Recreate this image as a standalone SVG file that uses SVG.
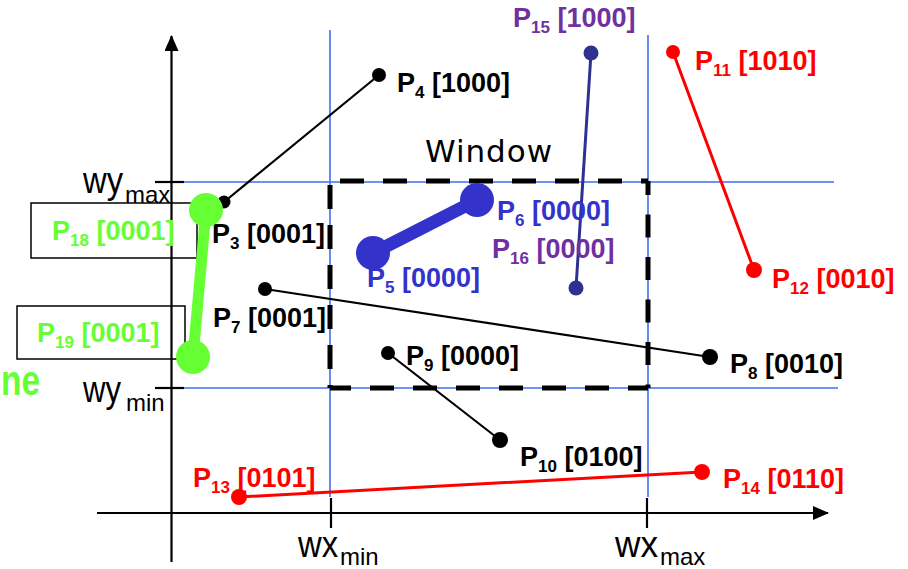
<svg xmlns="http://www.w3.org/2000/svg" width="908" height="569" viewBox="0 0 908 569">
<style>
.lbl{font-family:"Liberation Sans",Arial,sans-serif;font-weight:bold;font-size:27px}
.ax{font-family:"Liberation Sans",Arial,sans-serif;font-size:36px;fill:#000}
.axs{font-family:"Liberation Sans",Arial,sans-serif;font-size:24px;fill:#000}
.grid{stroke:#3f6ff0;stroke-width:1.6;fill:none}
.axis{stroke:#000;stroke-width:2.2;fill:none}
.win{stroke:#000;stroke-width:5;fill:none}
.blk{fill:#000}.red{fill:#ff0000}.pur{fill:#7030a0}.blu{fill:#3333cc}.grn{fill:#66ff33}.nav{fill:#2e3192}
</style>
<defs>
<marker id="ah" viewBox="0 0 16 14" refX="15" refY="7" markerWidth="16" markerHeight="14" markerUnits="userSpaceOnUse" orient="auto">
<path d="M0,0 L16,7 L0,14 Z" fill="#000"/>
</marker>
</defs>
<rect width="908" height="569" fill="#fff"/>
<g id="grid">
<line class="grid" x1="330" y1="30" x2="330" y2="497"/>
<line class="grid" x1="648" y1="35" x2="648" y2="497"/>
<line class="grid" x1="180" y1="182" x2="834" y2="182"/>
<line class="grid" x1="180" y1="388" x2="838" y2="388"/>
</g>
<g id="axes">
<line class="axis" x1="171.5" y1="562" x2="171.5" y2="36" marker-end="url(#ah)"/>
<line class="axis" x1="97" y1="513" x2="828" y2="513" marker-end="url(#ah)"/>
<line class="axis" x1="155" y1="182" x2="184" y2="182"/>
<line class="axis" x1="155" y1="388" x2="184" y2="388"/>
<line class="axis" x1="331" y1="498" x2="331" y2="528"/>
<line class="axis" x1="647" y1="498" x2="647" y2="528"/>
<text class="ax" x="83" y="193" textLength="40" lengthAdjust="spacingAndGlyphs">wy</text>
<text class="axs" x="125" y="203">max</text>
<text class="ax" x="83" y="402" textLength="38" lengthAdjust="spacingAndGlyphs">wy</text>
<text class="axs" x="126" y="411">min</text>
<text class="ax" x="298" y="557" textLength="40" lengthAdjust="spacingAndGlyphs">wx</text>
<text class="axs" x="340" y="565">min</text>
<text class="ax" x="615" y="557" textLength="43" lengthAdjust="spacingAndGlyphs">wx</text>
<text class="axs" x="660" y="565">max</text>
</g>
<g id="window">
<path class="win" d="M330,181 H648" stroke-dasharray="24 19" stroke-dashoffset="33"/>
<path class="win" d="M648,181 V388" stroke-dasharray="23 19.5" stroke-dashoffset="9"/>
<path class="win" d="M648,388 H330" stroke-dasharray="24 19" stroke-dashoffset="4"/>
<path class="win" d="M330,181 V388" stroke-dasharray="24 16" stroke-dashoffset="36"/>
<text x="425" y="162" font-family="DejaVu Sans, sans-serif" font-size="31" textLength="127" fill="#000">Window</text>
</g>
<g id="boxes">
<rect x="31" y="203" width="166" height="55" fill="none" stroke="#000" stroke-width="1.5"/>
<rect x="17" y="306" width="168" height="53" fill="none" stroke="#000" stroke-width="1.5"/>
</g>
<g id="connectors" fill="none" stroke-linecap="round">
<line x1="224" y1="202" x2="379" y2="75" stroke="#000" stroke-width="2.2"/>
<line x1="265" y1="289" x2="710" y2="357" stroke="#000" stroke-width="2.2"/>
<line x1="388" y1="353" x2="500" y2="440" stroke="#000" stroke-width="2.2"/>
<line x1="373" y1="253" x2="477" y2="200" stroke="#3333cc" stroke-width="13"/>
<line x1="591" y1="53" x2="576" y2="288" stroke="#2e3192" stroke-width="3"/>
<line x1="673" y1="52" x2="754" y2="270" stroke="#ff0000" stroke-width="3"/>
<line x1="239" y1="497" x2="702" y2="472" stroke="#ff0000" stroke-width="3"/>
<line x1="206" y1="210" x2="193" y2="357" stroke="#66ff33" stroke-width="11"/>
</g>
<g id="P3"><circle class="blk" cx="224" cy="202" r="6.5"/><text class="lbl blk" x="212" y="243">P<tspan dy="6" font-size="17">3</tspan><tspan dy="-6"> [0001]</tspan></text></g>
<g id="P4"><circle class="blk" cx="379" cy="75" r="7"/><text class="lbl blk" x="397" y="92">P<tspan dy="6" font-size="17">4</tspan><tspan dy="-6"> [1000]</tspan></text></g>
<g id="P5"><circle class="blu" cx="373" cy="253" r="17"/><text class="lbl blu" x="367" y="287">P<tspan dy="6" font-size="17">5</tspan><tspan dy="-6"> [0000]</tspan></text></g>
<g id="P6"><circle class="blu" cx="477" cy="200" r="17"/><text class="lbl blu" x="497" y="220">P<tspan dy="6" font-size="17">6</tspan><tspan dy="-6"> [0000]</tspan></text></g>
<g id="P7"><circle class="blk" cx="265" cy="289" r="7"/><text class="lbl blk" x="213" y="327">P<tspan dy="6" font-size="17">7</tspan><tspan dy="-6"> [0001]</tspan></text></g>
<g id="P8"><circle class="blk" cx="710" cy="357" r="8"/><text class="lbl blk" x="730" y="373">P<tspan dy="6" font-size="17">8</tspan><tspan dy="-6"> [0010]</tspan></text></g>
<g id="P9"><circle class="blk" cx="388" cy="353" r="7"/><text class="lbl blk" x="406" y="365">P<tspan dy="6" font-size="17">9</tspan><tspan dy="-6"> [0000]</tspan></text></g>
<g id="P10"><circle class="blk" cx="500" cy="440" r="8"/><text class="lbl blk" x="520" y="466">P<tspan dy="6" font-size="17">10</tspan><tspan dy="-6"> [0100]</tspan></text></g>
<g id="P11"><circle class="red" cx="673" cy="52" r="7"/><text class="lbl red" x="695" y="70">P<tspan dy="6" font-size="17">11</tspan><tspan dy="-6"> [1010]</tspan></text></g>
<g id="P12"><circle class="red" cx="754" cy="270" r="8"/><text class="lbl red" x="772" y="288">P<tspan dy="6" font-size="17">12</tspan><tspan dy="-6"> [0010]</tspan></text></g>
<g id="P13"><circle class="red" cx="239" cy="497" r="8"/><text class="lbl red" x="193" y="487">P<tspan dy="6" font-size="17">13</tspan><tspan dy="-6"> [0101]</tspan></text></g>
<g id="P14"><circle class="red" cx="702" cy="472" r="8"/><text class="lbl red" x="723" y="488">P<tspan dy="6" font-size="17">14</tspan><tspan dy="-6"> [0110]</tspan></text></g>
<g id="P15"><circle class="nav" cx="591" cy="53" r="7.5"/><text class="lbl pur" x="513" y="27">P<tspan dy="6" font-size="17">15</tspan><tspan dy="-6"> [1000]</tspan></text></g>
<g id="P16"><circle class="nav" cx="576" cy="288" r="7.5"/><text class="lbl pur" x="492" y="258">P<tspan dy="6" font-size="17">16</tspan><tspan dy="-6"> [0000]</tspan></text></g>
<g id="P18"><circle class="grn" cx="206" cy="210" r="17"/><text class="lbl grn" x="52" y="240">P<tspan dy="6" font-size="17">18</tspan><tspan dy="-6"> [0001]</tspan></text></g>
<g id="P19"><circle class="grn" cx="193" cy="357" r="17"/><text class="lbl grn" x="37" y="342">P<tspan dy="6" font-size="17">19</tspan><tspan dy="-6"> [0001]</tspan></text></g>
<g id="line-label"><text class="lbl grn" x="1" y="395" style="font-size:42px" textLength="39" lengthAdjust="spacingAndGlyphs">ne</text></g>
</svg>
